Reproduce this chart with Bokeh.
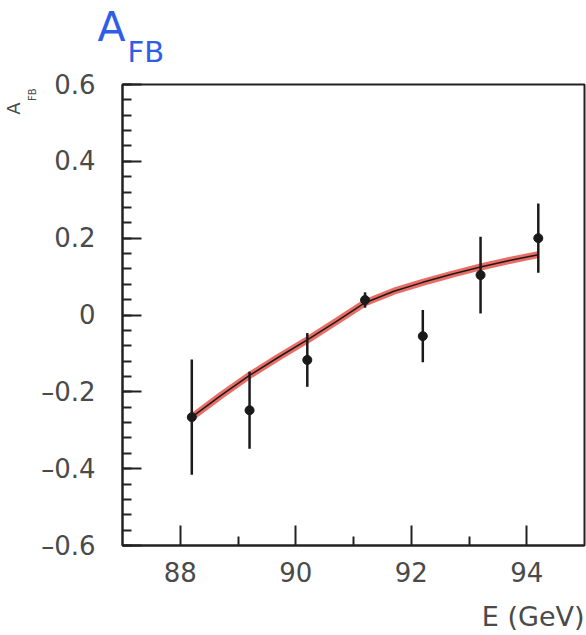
from bokeh.plotting import figure
from bokeh.models import FixedTicker, ColumnDataSource, Range1d, Title, Label
from bokeh.core.enums import CoordinateUnits
from bokeh.embed import file_html
from bokeh.resources import INLINE

# ---- data ----
energy = [88.2, 89.2, 90.2, 91.2, 92.2, 93.2, 94.2]
afb = [-0.266, -0.248, -0.117, 0.039, -0.055, 0.104, 0.200]
afb_err = [0.150, 0.100, 0.070, 0.020, 0.068, 0.100, 0.090]

fit_energy = [88.2, 88.7, 89.2, 89.7, 90.2, 90.7, 91.2, 91.7, 92.2, 92.7, 93.2, 93.7, 94.2]
fit_afb = [-0.266, -0.21, -0.157, -0.11, -0.065, -0.017, 0.032, 0.062, 0.085, 0.106, 0.125, 0.142, 0.157]

x_major = [88, 90, 92, 94]
x_minor = [89, 91, 93]
y_major = [-0.6, -0.4, -0.2, 0.0, 0.2, 0.4, 0.6]
y_minor = [round(-0.6 + 0.04 * i, 2) for i in range(31)]
y_labels = ["\u20130.6", "\u20130.4", "\u20130.2", "0", "0.2", "0.4", "0.6"]

# ---- layout ----
W, H = 586, 635
BL, BR, BT, BB = 122, 2, 84, 90
UNITS = "canvas" if "canvas" in CoordinateUnits else "screen"

p = figure(width=W, height=H, output_backend="svg", toolbar_location=None,
           x_range=Range1d(87.0, 95.0), y_range=Range1d(-0.6, 0.6),
           min_border_left=BL, min_border_right=BR, min_border_top=BT, min_border_bottom=BB)
p.background_fill_color = "white"
p.border_fill_color = "white"
p.grid.visible = False
p.outline_line_color = "#222222"
p.outline_line_width = 2

tick_font = "DejaVu Sans"
ink = "#4a4a4a"
for ax in (p.xaxis[0], p.yaxis[0]):
    ax.axis_line_color = "#222222"
    ax.axis_line_width = 2
    ax.major_tick_line_color = "#222222"
    ax.major_tick_line_width = 2
    ax.minor_tick_line_color = "#222222"
    ax.minor_tick_line_width = 2
    ax.major_tick_out = 0
    ax.minor_tick_out = 0
    ax.major_label_text_font = tick_font
    ax.major_label_text_font_size = "26px"
    ax.major_label_text_color = ink

p.xaxis.ticker = FixedTicker(ticks=x_major, minor_ticks=x_minor)
p.xaxis.major_tick_in = 20
p.xaxis.minor_tick_in = 9
p.xaxis.major_label_standoff = 16

p.yaxis.ticker = FixedTicker(ticks=y_major, minor_ticks=y_minor)
p.yaxis.major_tick_in = 19
p.yaxis.minor_tick_in = 9
p.yaxis.major_label_standoff = 27
p.yaxis.major_label_overrides = {v: s for v, s in zip(y_major, y_labels)}

# ---- fit curve ----
p.line(fit_energy, fit_afb, line_color="#e5534a", line_width=7, line_alpha=0.85)
p.line(fit_energy, fit_afb, line_color="#1a1a1a", line_width=1.5)

# ---- data points with error bars ----
src = ColumnDataSource(dict(
    x=energy, y=afb,
    lo=[a - e for a, e in zip(afb, afb_err)],
    hi=[a + e for a, e in zip(afb, afb_err)]))
p.segment(x0="x", y0="lo", x1="x", y1="hi", source=src, line_color="#1a1a1a", line_width=2.5)
p.scatter(x="x", y="y", source=src, size=9, fill_color="#1a1a1a", line_color="#1a1a1a")

# ---- handwritten blue title A_FB (labels in the panel above the frame) ----
blue = "#2f5ee6"
p.add_layout(Label(text="A", x=97, y=26, x_units=UNITS, y_units=UNITS,
                   text_align="left", text_baseline="alphabetic",
                   text_font="DejaVu Sans", text_font_size="41px",
                   text_color=blue), "above")
p.add_layout(Label(text="FB", x=127, y=51, x_units=UNITS, y_units=UNITS,
                   text_align="left", text_baseline="alphabetic",
                   text_font="DejaVu Sans", text_font_size="29px",
                   text_color=blue), "above")

# x axis title
p.add_layout(Label(text="E (GeV)", x=584, y=616, x_units=UNITS, y_units=UNITS,
                   text_align="right", text_baseline="alphabetic",
                   text_font=tick_font, text_font_size="27px",
                   text_color=ink), "below")

# y axis title A_FB (rotated, near the top of the axis)
p.add_layout(Title(text="FB", align="right", offset=4, standoff=2,
                   text_font=tick_font, text_font_size="10px",
                   text_font_style="normal", text_color=ink), "left")
p.add_layout(Title(text="A", align="right", offset=18, standoff=0,
                   text_font=tick_font, text_font_size="18px",
                   text_font_style="normal", text_color=ink), "left")

open("out.html", "w").write(file_html(p, INLINE))
